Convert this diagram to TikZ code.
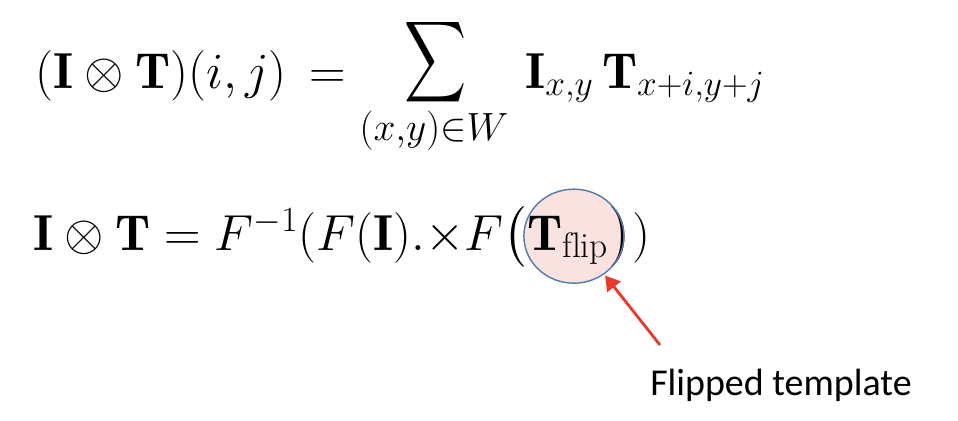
\RequirePackage{fix-cm}
\documentclass[tikz,border=0pt]{standalone}
\usepackage{amsmath}
\usepackage{amssymb}
\usepackage{fontspec}
\newfontfamily\labelfont{Carlito}
\usetikzlibrary{arrows.meta,shapes.geometric,backgrounds}
\definecolor{flipfill}{HTML}{F9E2E0}
\definecolor{flipline}{HTML}{5479AB}
\definecolor{arrowred}{HTML}{E8392C}
\tikzset{>/.tip={Triangle[scale=1.2]},
  eqn/.style={anchor=base west, inner sep=0pt, font=\fontsize{36}{43}\selectfont}}

\begin{document}
\begin{tikzpicture}[x=0.025cm, y=-0.025cm]
\useasboundingbox (0,0) rectangle (958,420);
\node[eqn] (conv) at (35,88) {$(\mathbf{I}\otimes\mathbf{T})(i,j)\,=$};
\node[eqn, anchor=center] (sumop) at (436,62) {\scalebox{0.85}[1.12]{$\displaystyle\sum$}};
\node[eqn, anchor=base, font=\fontsize{40}{48}\selectfont] (range) at (434,140) {$\scriptstyle(x,y)\in W$};
\node[eqn] (terms) at (525,88) {$\mathbf{I}_{x,y}\,\mathbf{T}_{x+i,y+j}$};
\node[eqn] (fft) at (33,250)
  {$\mathbf{I}\otimes\mathbf{T} = F^{-1}(F(\mathbf{I}).{\times}F\big($};
\node[eqn] (tflip) at (fft.base east) {$\mathbf{T}_{\mathrm{flip}}$};
\node[eqn] (close) at (tflip.base east) {$\big))$};
% highlight on the flipped template
\node[ellipse, draw=flipline, line width=1pt, minimum width=2.5cm, minimum height=2.35cm,
  inner sep=0pt] (flip) at ([xshift=0.15cm, yshift=0.1cm]tflip.center) {};
\begin{scope}[on background layer]
\fill[flipfill] (flip.center) ellipse [x radius=1.25cm, y radius=1.175cm];
\end{scope}
\node[anchor=base west, inner sep=0pt, font=\labelfont\fontsize{27}{32}\selectfont] (lbl) at (650,395) {Flipped template};
\coordinate (tail) at (660,345);
\draw[->, arrowred, line width=2pt, shorten >=1pt] (tail) -- (flip);
\end{tikzpicture}
\end{document}
